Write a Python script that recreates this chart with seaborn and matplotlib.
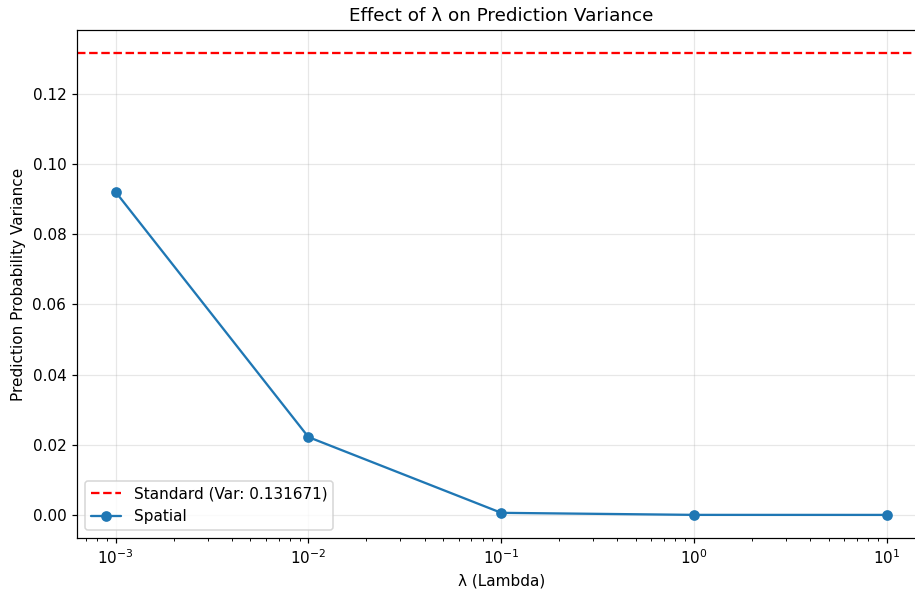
import matplotlib
matplotlib.use("Agg")
import matplotlib.pyplot as plt
import seaborn as sns
import pandas as pd

# Data
lambdas = [0.001, 0.01, 0.1, 1.0, 10.0]
spatial_var = [0.0921, 0.0222, 0.0006, 0.00002, 0.00001]
standard_var = 0.131671

df = pd.DataFrame({"lambda": lambdas, "variance": spatial_var})

sns.set_style("white")
plt.rcParams['font.family'] = ['DejaVu Sans']
plt.rcParams.update({
    "text.color": "black",
    "axes.labelcolor": "black",
    "xtick.color": "black",
    "ytick.color": "black",
    "axes.edgecolor": "black",
})

dpi = 110
fig = plt.figure(figsize=(915 / dpi, 590 / dpi), dpi=dpi)
ax = fig.add_axes([77 / 915, 52 / 590, (925.6 - 77) / 915, 508 / 590])

ax.axhline(standard_var, color="red", linestyle="--", linewidth=1.5,
           label=f"Standard (Var: {standard_var:.6f})")
sns.lineplot(data=df, x="lambda", y="variance", marker="o", markersize=7,
             markeredgewidth=0, color="#1f77b4", linewidth=1.5,
             label="Spatial", ax=ax)

ax.set_xscale("log")
ax.set_xlabel("λ (Lambda)")
ax.set_ylabel("Prediction Probability Variance")
ax.set_title("Effect of λ on Prediction Variance", fontsize=12)
ax.grid(True, color="#b0b0b0", alpha=0.3, linewidth=0.8)
ax.tick_params(axis="both", which="both", direction="out", bottom=True, left=True)
for s in ax.spines.values():
    s.set_linewidth(0.8)
ax.legend(loc="lower left", frameon=True)

fig.savefig("out.png", dpi=dpi)
